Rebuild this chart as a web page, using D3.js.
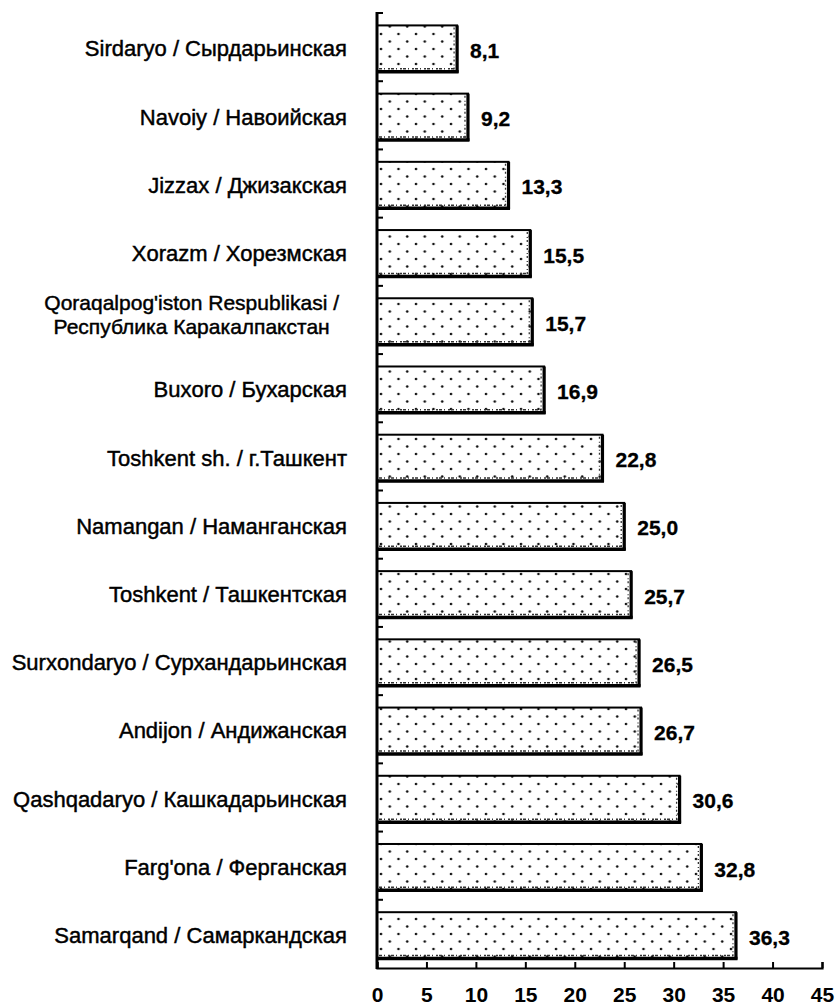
<!DOCTYPE html>
<html>
<head>
<meta charset="utf-8">
<script src="https://cdn.jsdelivr.net/npm/d3@7"></script>
<style>
  html, body { margin: 0; padding: 0; background: #fff; }
  svg { display: block; }
</style>
</head>
<body>
<svg id="chart" width="835" height="1006"></svg>
<script>
const categories = [
  "Sirdaryo / Сырдарьинская",
  "Navoiy / Навоийская",
  "Jizzax / Джизакская",
  "Xorazm / Хорезмская",
  "Qoraqalpog'iston Respublikasi /\nРеспублика Каракалпакстан",
  "Buxoro / Бухарская",
  "Toshkent sh. / г.Ташкент",
  "Namangan / Наманганская",
  "Toshkent / Ташкентская",
  "Surxondaryo / Сурхандарьинская",
  "Andijon / Андижанская",
  "Qashqadaryo / Кашкадарьинская",
  "Farg'ona / Ферганская",
  "Samarqand / Самаркандская"
];
const values = [8.1, 9.2, 13.3, 15.5, 15.7, 16.9, 22.8, 25.0, 25.7, 26.5, 26.7, 30.6, 32.8, 36.3];
const valueLabels = ["8,1", "9,2", "13,3", "15,5", "15,7", "16,9", "22,8", "25,0", "25,7", "26,5", "26,7", "30,6", "32,8", "36,3"];
const xTicks = [0, 5, 10, 15, 20, 25, 30, 35, 40, 45];

const svg = d3.select("#chart");
const font = "'Liberation Sans', Arial, sans-serif";

const x = d3.scaleLinear().domain([0, 45]).range([377, 822]);
const y = d3.scaleBand().domain(categories).range([13, 968]).paddingInner(0.32).paddingOuter(0.16);

// pattern
const defs = svg.append("defs");
const pat = defs.append("pattern").attr("id", "dots")
  .attr("patternUnits", "userSpaceOnUse")
  .attr("width", 17.5).attr("height", 15)
  .attr("x", 377).attr("y", 0);
pat.append("rect").attr("width", 17.5).attr("height", 15).attr("fill", "#fff");
pat.append("circle").attr("cx", 4).attr("cy", 4).attr("r", 1.3).attr("fill", "#111");
pat.append("circle").attr("cx", 12.75).attr("cy", 11.5).attr("r", 1.3).attr("fill", "#111");

const shift = 1.5;
const bars = svg.append("g");
categories.forEach((c, i) => {
  const x0 = x(0), x1 = x(values[i]);
  const y0 = y(c) + shift, h = y.bandwidth();
  bars.append("rect").attr("x", x0).attr("y", y0).attr("width", x1 - x0).attr("height", h)
    .attr("fill", "url(#dots)").attr("stroke", "#000").attr("stroke-width", 2);
  // heavier right and bottom edges (shadowed look)
  bars.append("line").attr("x1", x1).attr("x2", x1).attr("y1", y0).attr("y2", y0 + h + 1)
    .attr("stroke", "#000").attr("stroke-width", 3.2);
  bars.append("line").attr("x1", x0).attr("x2", x1 + 1.5).attr("y1", y0 + h).attr("y2", y0 + h)
    .attr("stroke", "#000").attr("stroke-width", 3.5);
  bars.append("line").attr("x1", x0 + 2).attr("x2", x1 - 2).attr("y1", y0 + h - 3).attr("y2", y0 + h - 3)
    .attr("stroke", "#333").attr("stroke-width", 1.5).attr("stroke-dasharray", "3 2 1 3 2 1");
  bars.append("line").attr("x1", x1 - 3).attr("x2", x1 - 3).attr("y1", y0 + 2).attr("y2", y0 + h - 2)
    .attr("stroke", "#333").attr("stroke-width", 1.3).attr("stroke-dasharray", "2 3 1 2");
});

// y axis
const yAxis = svg.append("g");
yAxis.append("line").attr("x1", x(0)).attr("x2", x(0)).attr("y1", 12).attr("y2", 969)
  .attr("stroke", "#000").attr("stroke-width", 3);
const gap = (y.step() - y.bandwidth()) / 2;
categories.forEach(c => {
  const by = y(c) - gap;
  yAxis.append("line").attr("x1", x(0)).attr("x2", x(0) + 6).attr("y1", by).attr("y2", by)
    .attr("stroke", "#000").attr("stroke-width", 2);
});

// x axis
const xAxis = svg.append("g").attr("transform", "translate(0,968)")
  .call(d3.axisBottom(x).tickValues(xTicks).tickSizeInner(-6).tickSizeOuter(-6).tickPadding(19).tickFormat(d3.format("d")));
xAxis.select(".domain").attr("stroke", "#000").attr("stroke-width", 2.2);
xAxis.selectAll(".tick line").attr("stroke", "#000").attr("stroke-width", 2);
xAxis.selectAll(".tick text").attr("font-family", font).attr("font-size", 21).attr("font-weight", "bold").attr("fill", "#000");

// category labels
const labels = svg.append("g").attr("font-family", font).attr("font-size", 22).attr("fill", "#000");
categories.forEach(c => {
  const cy = y(c) + y.bandwidth() / 2 + shift;
  const lines = c.split("\n");
  if (lines.length === 1) {
    labels.append("text").attr("x", 347).attr("y", cy).attr("dy", "0.35em")
      .attr("text-anchor", "end").attr("stroke", "#000").attr("stroke-width", 0.45).text(c);
  } else {
    const t = labels.append("text").attr("text-anchor", "middle").attr("font-size", 21)
      .attr("stroke", "#000").attr("stroke-width", 0.45);
    const spans = lines.map((l, k) => t.append("tspan").attr("x", 0).attr("y", cy - 7 + (k - (lines.length - 1) / 2) * 23.5).attr("dy", "0.35em").text(l));
    const w = d3.max(spans, s => s.node().getComputedTextLength());
    spans.forEach(s => s.attr("x", 339 - w / 2));
  }
});

// value labels
const vl = svg.append("g").attr("font-family", font).attr("font-size", 21).attr("font-weight", "bold").attr("fill", "#000");
categories.forEach((c, i) => {
  vl.append("text").attr("x", x(values[i]) + 13).attr("y", y(c) + y.bandwidth() / 2 + shift + 2).attr("dy", "0.35em")
    .attr("stroke", "#000").attr("stroke-width", 0.3)
    .text(valueLabels[i]);
});
</script>
</body>
</html>
